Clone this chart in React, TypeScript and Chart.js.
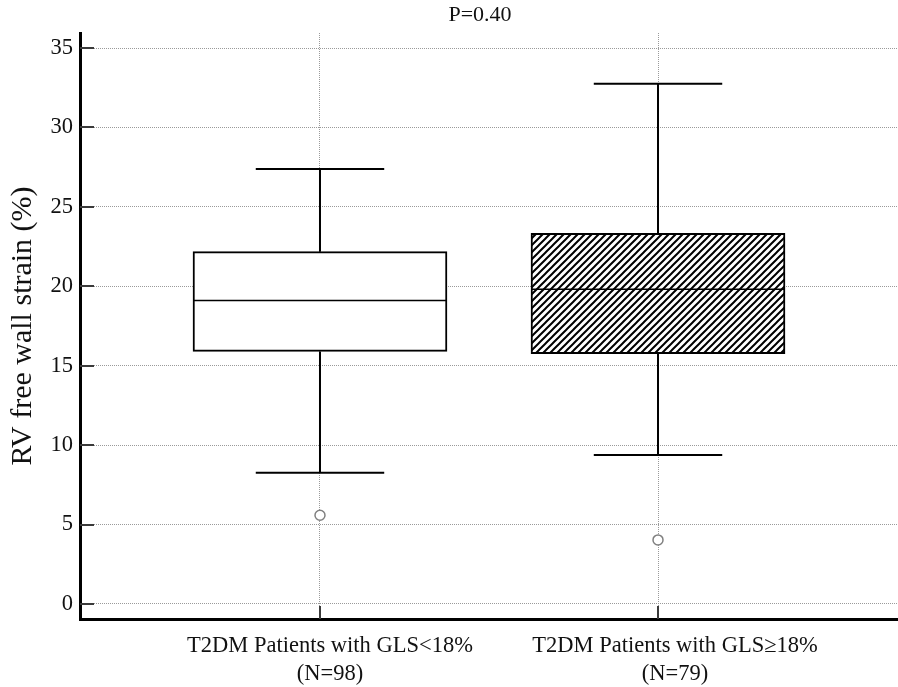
import React, { useEffect, useRef } from "react";
import { Chart, registerables } from "chart.js";

Chart.register(...registerables);

const categories: string[][] = [
  ["T2DM Patients with GLS<18%", "(N=98)"],
  ["T2DM Patients with GLS\u226518%", "(N=79)"],
];
const positions = [1, 2];
const q1 = [15.9, 15.76];
const q3 = [22.18, 23.33];
const medians = [19.1, 19.81];
const whiskerLow = [8.26, 9.38];
const whiskerHigh = [27.39, 32.75];
const outliers: number[][] = [[5.58], [4.03]];
const yTicks = [0, 5, 10, 15, 20, 25, 30, 35];
const titleText = "P=0.40";
const yTitle = "RV free wall strain (%)";

const FONT = '"Liberation Serif", "Times New Roman", Times, serif';
const BOX_HALF = 0.375;
const CAP_HALF = 0.19;
const LABEL_SHIFT = [10, 17];

export default function App() {
  const ref = useRef<HTMLCanvasElement | null>(null);

  useEffect(() => {
    const canvas = ref.current;
    if (!canvas) return;

    const pc = document.createElement("canvas");
    pc.width = 7;
    pc.height = 7;
    const p = pc.getContext("2d")!;
    p.fillStyle = "#ffffff";
    p.fillRect(0, 0, 7, 7);
    p.strokeStyle = "#000000";
    p.lineWidth = 2;
    p.beginPath();
    p.moveTo(-1, 8);
    p.lineTo(8, -1);
    p.moveTo(-1, 1);
    p.lineTo(1, -1);
    p.moveTo(6, 8);
    p.lineTo(8, 6);
    p.stroke();
    const ctx0 = canvas.getContext("2d")!;
    const hatch = ctx0.createPattern(pc, "repeat")!;

    const boxData = positions.map((x, i) => ({ x, y: [q1[i], q3[i]] }));
    const medianData: any[] = [];
    const stemData: any[] = [];
    const capData: any[] = [];
    const outlierData: any[] = [];
    positions.forEach((x, i) => {
      medianData.push({ x: x - BOX_HALF, y: medians[i] }, { x: x + BOX_HALF, y: medians[i] }, { x, y: null });
      stemData.push(
        { x, y: q3[i] }, { x, y: whiskerHigh[i] }, { x, y: null },
        { x, y: q1[i] }, { x, y: whiskerLow[i] }, { x, y: null }
      );
      capData.push(
        { x: x - CAP_HALF, y: whiskerHigh[i] }, { x: x + CAP_HALF, y: whiskerHigh[i] }, { x, y: null },
        { x: x - CAP_HALF, y: whiskerLow[i] }, { x: x + CAP_HALF, y: whiskerLow[i] }, { x, y: null }
      );
      outliers[i].forEach((v) => outlierData.push({ x, y: v }));
    });

    const overlay = {
      id: "overlay",
      afterDraw(chart: any) {
        const ctx = chart.ctx;
        const ca = chart.chartArea;
        const xs = chart.scales.x;
        const ys = chart.scales.y;
        ctx.save();
        ctx.strokeStyle = "#3a3a3a";
        ctx.lineWidth = 2;
        ys.ticks.forEach((t: any) => {
          const py = Math.round(ys.getPixelForValue(t.value));
          ctx.beginPath();
          ctx.moveTo(ca.left, py);
          ctx.lineTo(ca.left + 14, py);
          ctx.stroke();
        });
        xs.ticks.forEach((t: any) => {
          const px = Math.round(xs.getPixelForValue(t.value));
          ctx.beginPath();
          ctx.moveTo(px, ca.bottom);
          ctx.lineTo(px, ca.bottom - 13);
          ctx.stroke();
        });
        ctx.fillStyle = "#111111";
        ctx.font = "22.5px " + FONT;
        ctx.textAlign = "center";
        ctx.textBaseline = "alphabetic";
        positions.forEach((v, i) => {
          const px = xs.getPixelForValue(v) + LABEL_SHIFT[i];
          categories[i].forEach((line, j) => {
            ctx.fillText(line, px, ca.bottom + 33 + j * 28);
          });
        });
        ctx.font = "22px " + FONT;
        ctx.textBaseline = "middle";
        ctx.fillText(titleText, (ca.left + ca.right) / 2 - 9, 15);
        ctx.restore();
      },
    };

    const chart = new Chart(canvas, {
      type: "scatter",
      data: {
        datasets: [
          {
            type: "scatter",
            label: "outliers",
            data: outlierData,
            pointRadius: 5,
            pointBorderWidth: 1.5,
            borderColor: "#808080",
            backgroundColor: "#ffffff",
            order: 0,
          } as any,
          {
            type: "line",
            label: "medians",
            data: medianData,
            borderColor: "#000000",
            borderWidth: 1.5,
            pointRadius: 0,
            spanGaps: false,
            fill: false,
            order: 1,
          } as any,
          {
            type: "line",
            label: "stems",
            data: stemData,
            borderColor: "#000000",
            borderWidth: 2,
            pointRadius: 0,
            spanGaps: false,
            fill: false,
            order: 2,
          } as any,
          {
            type: "line",
            label: "caps",
            data: capData,
            borderColor: "#000000",
            borderWidth: 2,
            pointRadius: 0,
            spanGaps: false,
            fill: false,
            order: 2,
          } as any,
          {
            type: "bar",
            label: "boxes",
            data: boxData,
            backgroundColor: ["#ffffff", hatch],
            borderColor: "#000000",
            borderWidth: 2,
            borderSkipped: false,
            barThickness: 254,
            grouped: false,
            order: 5,
          } as any,
        ],
      },
      options: {
        animation: false,
        responsive: true,
        maintainAspectRatio: false,
        layout: { autoPadding: false, padding: { top: 33, right: 0, left: 0, bottom: 0 } },
        plugins: {
          legend: { display: false },
          tooltip: { enabled: false },
          title: { display: false },
        },
        scales: {
          x: {
            type: "linear",
            min: 0.29,
            max: 2.71,
            offset: false,
            afterBuildTicks: (s: any) => {
              s.ticks = positions.map((v) => ({ value: v }));
            },
            afterFit: (s: any) => {
              s.height = 68;
              s.paddingLeft = 0;
              s.paddingRight = 0;
            },
            ticks: { display: false },
            grid: {
              color: "#9a9a9a",
              lineWidth: 1,
              drawTicks: false,
              offset: false,
            },
            border: { display: true, color: "#000000", width: 3, dash: [1, 1] },
          },
          y: {
            type: "linear",
            min: -0.95,
            max: 35.95,
            afterBuildTicks: (s: any) => {
              s.ticks = yTicks.map((v) => ({ value: v }));
            },
            afterFit: (s: any) => {
              s.width = 80;
              s.paddingTop = 0;
              s.paddingBottom = 0;
            },
            ticks: {
              font: { family: FONT, size: 22.5 },
              color: "#111111",
              padding: 7,
            },
            grid: {
              color: "#9a9a9a",
              lineWidth: 1,
              drawTicks: false,
            },
            border: { display: true, color: "#000000", width: 3, dash: [1, 1] },
            title: {
              display: true,
              text: yTitle,
              font: { family: FONT, size: 30 },
              color: "#111111",
              padding: { top: 5, bottom: 0 },
            },
          },
        },
      },
      plugins: [overlay],
    } as any);

    return () => chart.destroy();
  }, []);

  return (
    <div style={{ position: "absolute", left: 0, top: 0, width: 898, height: 687, background: "#ffffff" }}>
      <canvas ref={ref} />
    </div>
  );
}
